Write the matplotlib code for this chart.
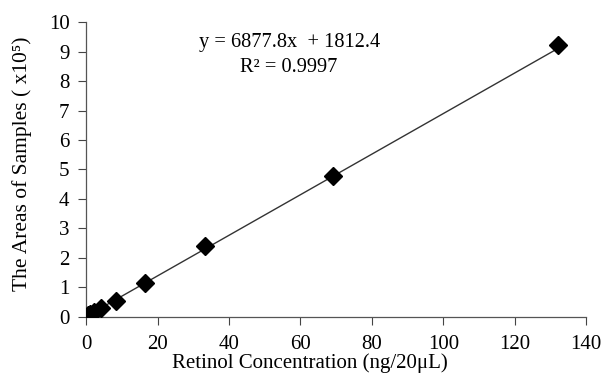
import numpy as np
import matplotlib
matplotlib.use("Agg")
import matplotlib.pyplot as plt

plt.rcParams['font.family'] = ['Liberation Serif', 'DejaVu Serif']

# Retinol standards (ng/20uL) and peak areas (x10^5)
conc = [0.5, 1.0, 2.1, 4.1, 8.25, 16.4, 33.3, 69.2, 132.0]
area = [0.05, 0.09, 0.16, 0.30, 0.55, 1.16, 2.39, 4.77, 9.22]

# Trend line reported on the chart
slope = 6877.8
intercept = 1812.4
r2 = 0.9997

x_ticks = [0, 20, 40, 60, 80, 100, 120, 140]
y_ticks = [0, 1, 2, 3, 4, 5, 6, 7, 8, 9, 10]

fig = plt.figure(figsize=(6.03, 3.8), dpi=100)
ax = fig.add_axes([0.143, 0.166, 0.829, 0.776])

# fitted line, areas scaled to x10^5
xfit = np.array([0, max(conc)])
yfit = (slope * xfit + intercept) / 1e5
ax.plot(xfit, yfit, color='#333333', linewidth=1.0, zorder=2)
ax.plot(conc, area, linestyle='none', marker='D', markersize=9,
        color='black', markeredgecolor='black', zorder=3)

ax.set_xlim(0, 140)
ax.set_ylim(0, 10)
ax.set_xticks(x_ticks)
ax.set_yticks(y_ticks)
ax.tick_params(direction='out', length=6, width=0.8, color='#444444',
               labelsize=15)
ax.tick_params(axis='x', pad=7)
ax.tick_params(axis='y', pad=6)

for side in ['top', 'right']:
    ax.spines[side].set_visible(False)
for side in ['left', 'bottom']:
    ax.spines[side].set_color('#555555')
    ax.spines[side].set_linewidth(0.9)

ax.set_xlabel('Retinol Concentration (ng/20μL)', fontsize=15)
ax.xaxis.set_label_coords(0.448, -0.122)
ax.set_ylabel('The Areas of Samples ( x10⁵)', fontsize=15.5)
ax.yaxis.set_label_coords(-0.108, 0.52)

ax.text(0.406, 0.932, f'y = {slope}x  + {intercept}', transform=ax.transAxes,
        ha='center', va='center', fontsize=14.7)
ax.text(0.406, 0.847, f'R² = {r2}', transform=ax.transAxes,
        ha='center', va='center', fontsize=14.7)

fig.savefig('out.png', dpi=100)
